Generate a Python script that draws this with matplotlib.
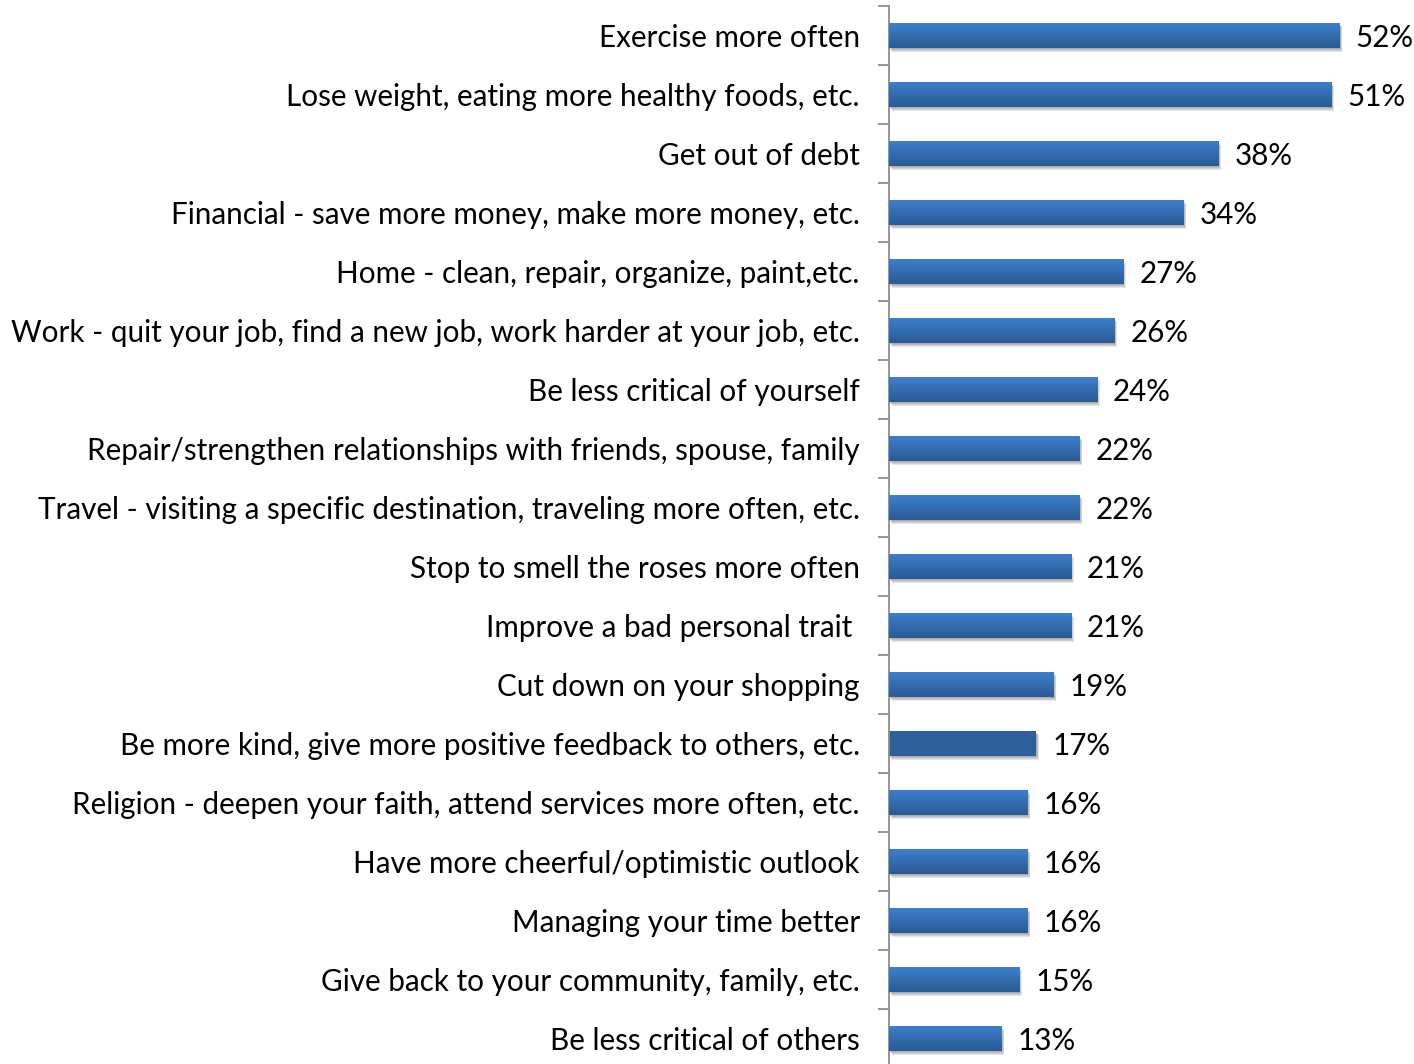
import matplotlib
matplotlib.use("Agg")
import matplotlib.pyplot as plt
import numpy as np
from matplotlib import patheffects as pe
from matplotlib.colors import LinearSegmentedColormap

categories = [
    "Exercise more often",
    "Lose weight, eating more healthy foods, etc.",
    "Get out of debt",
    "Financial - save more money, make more money, etc.",
    "Home - clean, repair, organize, paint,etc.",
    "Work - quit your job, find a new job, work harder at your job, etc.",
    "Be less critical of yourself",
    "Repair/strengthen relationships with friends, spouse, family",
    "Travel - visiting a specific destination, traveling more often, etc.",
    "Stop to smell the roses more often",
    "Improve a bad personal trait ",
    "Cut down on your shopping",
    "Be more kind, give more positive feedback to others, etc.",
    "Religion - deepen your faith, attend services more often, etc.",
    "Have more cheerful/optimistic outlook",
    "Managing your time better",
    "Give back to your community, family, etc.",
    "Be less critical of others",
]
values = [52, 51, 38, 34, 27, 26, 24, 22, 22, 21, 21, 19, 17, 16, 16, 16, 15, 13]
highlight = "Be more kind, give more positive feedback to others, etc."

FONT = "Lato"
FS = 21.3

W, H = 1414, 1064
fig = plt.figure(figsize=(W / 100, H / 100), dpi=100)
ax_left, ax_top, ax_bottom = 889, 6, 1068
ax = fig.add_axes([ax_left / W, 1 - ax_bottom / H, (W - ax_left) / W,
                   (ax_bottom - ax_top) / H])

n = len(values)
y = np.arange(n)
bar_h = 0.41
# light at the top edge of each bar, darker toward the bottom
grad = LinearSegmentedColormap.from_list("g", ["#3d7fcc", "#2b5a94"])
img = np.linspace(0, 1, 64).reshape(-1, 1)

# soft drop shadow built from a few faint offset copies
shadow = [pe.SimplePatchShadow(offset=(dx, dy), shadow_rgbFace="#404040", alpha=0.13)
          for dx, dy in [(0.5, -0.8), (1.0, -1.5), (1.4, -2.2), (1.8, -2.9)]]

bars = ax.barh(y, values, height=bar_h, color="#3670b8", linewidth=0, zorder=2)
for bar, cat, v in zip(bars, categories, values):
    bar.set_path_effects(shadow + [pe.Normal()])
    if cat == highlight:
        bar.set_facecolor("#2e5f9a")
    else:
        x0, yb = bar.get_x(), bar.get_y()
        im = ax.imshow(img, cmap=grad, aspect="auto", origin="upper",
                       extent=(x0, x0 + bar.get_width(), yb + bar.get_height(), yb),
                       zorder=3, interpolation="bilinear")
        im.set_clip_path(bar)
    ax.text(v + 1.85, bar.get_y() + bar.get_height() / 2, f"{v}%",
            va="center_baseline", ha="left", fontsize=FS, family=FONT, color="black")

ax.set_xlim(0, (W - ax_left) / 8.67)
ax.set_ylim(n - 0.5, -0.5)
ax.set_yticks(y)
ax.set_yticklabels(categories, fontsize=FS, family=FONT)
for lbl in ax.get_yticklabels():
    lbl.set_va("center_baseline")
ax.set_yticks(np.arange(n + 1) - 0.5, minor=True)
ax.tick_params(axis="y", which="major", length=0, pad=21)
ax.tick_params(axis="y", which="minor", length=8, width=1.3, color="#8c8c8c")
ax.set_xticks([])
for s in ["top", "right", "bottom"]:
    ax.spines[s].set_visible(False)
ax.spines["left"].set_color("#8c8c8c")
ax.spines["left"].set_linewidth(1.3)
ax.set_facecolor("none")

fig.savefig("out.png", dpi=100)
